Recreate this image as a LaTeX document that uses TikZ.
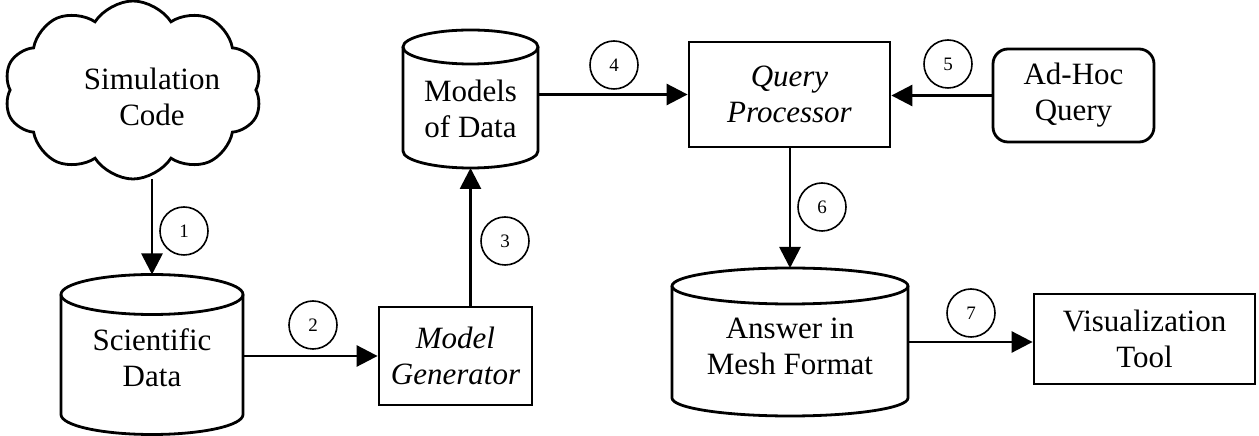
\documentclass[tikz,border=0pt]{standalone}
\usepackage{fontspec}
\setmainfont{Liberation Serif}
\usetikzlibrary{shapes.symbols,arrows.meta,calc}
\newcommand\diagfont{\fontsize{31}{36}\selectfont}
\newcommand\numfont{\fontsize{19}{22}\selectfont}
\newcommand\cylpath[3]{%
  \draw[cylline] ($(#1.north)+(0pt,-#3)$) ellipse[x radius=#2, y radius=#3];
  \draw[cylline] ($(#1.north west)+(0pt,-#3)$) -- ($(#1.south west)+(0pt,#3)$)
     arc[start angle=180,end angle=360,x radius=#2,y radius=#3]
     -- ($(#1.north east)+(0pt,-#3)$);}
\tikzset{
  lbl/.style={align=center, font=\diagfont, inner sep=0pt},
  box/.style={draw, line width=2.8pt, inner sep=0pt, align=center, font=\diagfont},
  cylbound/.style={inner sep=0pt, outer sep=0pt},
  cylline/.style={line width=2.8pt},
  num/.style={circle, draw, line width=1.6pt, minimum size=48pt, inner sep=0pt, font=\numfont},
  flow/.style={line width=2.8pt, -{Triangle[length=21pt,width=21pt]}},
}
\begin{document}
\begin{tikzpicture}[x=1pt,y=1pt]
\useasboundingbox (0,0) rectangle (1259,436);
% cloud
\node[cloud, draw, line width=2.8pt, cloud puffs=10, cloud puff arc=115, cloud ignores aspect,
      minimum width=258pt, minimum height=178pt, inner sep=0pt] (sim) at (133,346) {};
\node[lbl] (simT) at (152,339) {Simulation\\Code};
\coordinate (simB) at (152,257);
% scientific data cylinder
\node[cylbound, minimum width=182pt, minimum height=160pt] (sci) at (152,81.5) {};
\cylpath{sci}{91pt}{20pt}
\node[lbl] (sciT) at (152,78.5) {Scientific\\Data};
% model generator
\node[box, minimum width=153pt, minimum height=98pt] (mg) at (455.5,80) {\itshape Model\\\itshape Generator};
% models of data cylinder
\node[cylbound, minimum width=135pt, minimum height=138pt] (mod) at (470.5,337) {};
\cylpath{mod}{67.5pt}{17pt}
\node[lbl] (modT) at (470.5,327.5) {Models\\of Data};
% query processor
\node[box, minimum width=201pt, minimum height=105pt] (qp) at (789.5,341.5) {\itshape Query\\\itshape Processor};
% ad-hoc query
\node[box, rounded corners=15pt, minimum width=161pt, minimum height=93pt] (ah) at (1073.5,340.5) {Ad-Hoc\\Query};
% answer cylinder
\node[cylbound, minimum width=236pt, minimum height=148pt] (ans) at (790,94) {};
\cylpath{ans}{118pt}{18pt}
\node[lbl] (ansT) at (790,89.5) {Answer in\\Mesh Format};
% visualization tool
\node[box, minimum width=221pt, minimum height=90pt] (vis) at (1144.5,97) {Visualization\\Tool};
% connectors
\draw[flow] (simB) -- (sci.north);
\draw[flow] (sci.east |- mg.west) -- (mg.west);
\draw[flow] (mg.north -| mod.south) -- (mod.south);
\draw[flow] (mod.east |- qp.west) -- (qp.west);
\draw[flow] (ah.west) -- (ah.west -| qp.east);
\draw[flow] (qp.south -| ans.north) -- (ans.north);
\draw[flow] (ans.east) -- (ans.east -| vis.west);
% number circles
\node[num] (n1) at (184,205) {1};
\node[num] (n2) at (313,111) {2};
\node[num] (n3) at (505,195) {3};
\node[num] (n4) at (614,371) {4};
\node[num] (n5) at (948,372) {5};
\node[num] (n6) at (822,229) {6};
\node[num] (n7) at (971,123) {7};
\end{tikzpicture}
\end{document}
